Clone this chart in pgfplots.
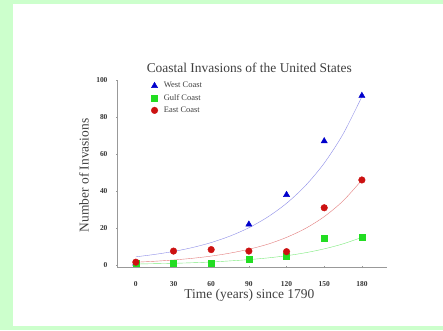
\documentclass[border=0pt]{standalone}
\usepackage{pgfplots}
\pgfplotsset{compat=1.18}
\usepackage{fontspec}
\setmainfont{Liberation Serif}
\definecolor{pagegreen}{HTML}{CCFFCC}
\definecolor{wblue}{HTML}{0000CC}
\definecolor{ggreen}{HTML}{22DD22}
\definecolor{ered}{HTML}{CC1111}
\definecolor{axgray}{HTML}{999999}
\begin{document}
\begin{tikzpicture}[x=1bp,y=1bp]
\fill[pagegreen] (0,0) rectangle (443,330);
\fill[white] (13,4) rectangle (443,326);
\begin{axis}[
  at={(117bp,63bp)}, anchor=south west,
  scale only axis, width=270bp, height=187bp,
  xmin=-15, xmax=200, ymin=-1, ymax=100,
  axis lines=left, axis line style={axgray, -},
  xtick={0,30,...,180}, ytick={0,20,...,100},
  tick style={axgray}, major tick length=2bp,
  /pgf/number format/assume math mode=true,
  ticklabel style={font=\fontsize{7.5}{8}\selectfont\bfseries, text=black!80},
  xticklabel style={anchor=center, yshift=-16bp},
  yticklabel style={anchor=east, xshift=-5bp},
  title={Coastal Invasions of the United States},
  title style={at={(axis description cs:0.49,1.035)}, anchor=center,
    font=\fontsize{13.5}{14}\selectfont, text=black!75},
  xlabel={Time (years) since 1790},
  ylabel={Number of Invasions},
  xlabel style={at={(axis description cs:0.49,-0.15)}, anchor=center,
    font=\fontsize{13.5}{14}\selectfont, text=black!75},
  ylabel style={at={(axis description cs:-0.122,0.49)}, anchor=center,
    font=\fontsize{13.5}{14}\selectfont, text=black!75},
  legend style={at={(0.115,1.01)}, anchor=north west, draw=none, fill=none,
    font=\fontsize{8.5}{9}\selectfont, row sep=1bp, column sep=4bp, text=black!75},
  legend cell align=left,
]
\addplot[wblue!45, thin, smooth, forget plot] table {
x y
0 4.5
15 5.8
30 7.4
45 9.5
60 12.2
75 15.7
90 20.2
105 26.0
120 33.4
135 42.9
150 55.1
165 70.8
180 91
};
\addplot[ggreen!60, thin, smooth, forget plot] table {
x y
0 0.6
15 0.8
30 1.0
45 1.3
60 1.7
75 2.3
90 3.0
105 3.9
120 5.1
135 6.7
150 8.8
165 11.5
180 15
};
\addplot[ered!55, thin, smooth, forget plot] table {
x y
0 1.6
15 2.1
30 2.8
45 3.7
60 4.9
75 6.5
90 8.6
105 11.3
120 15.0
135 19.8
150 26.2
165 34.7
180 46
};
\addplot[only marks, mark=triangle*, mark size=3.6bp, color=wblue] coordinates {
(0,1) (90,22) (120,38) (150,67) (180,91.5)
};
\addlegendentry{West Coast}
\addplot[only marks, mark=square*, mark size=3bp, color=ggreen] coordinates {
(0,1) (30,1) (60,1) (90,3) (120,4.6) (150,14.8) (180,15)
};
\addlegendentry{Gulf Coast}
\addplot[only marks, mark=*, mark size=3.3bp, color=ered] coordinates {
(0,1.6) (30,7.6) (60,8.4) (90,7.6) (120,7.3) (150,31) (180,46)
};
\addlegendentry{East Coast}
\end{axis}
\end{tikzpicture}
\end{document}
